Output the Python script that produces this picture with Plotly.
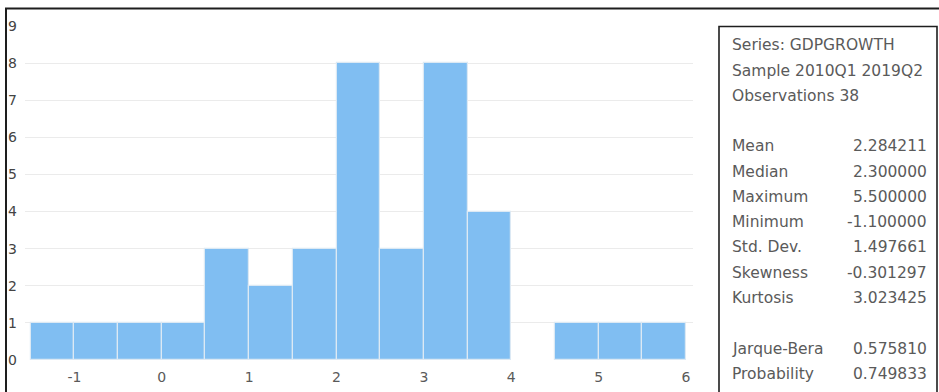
import plotly.graph_objects as go

# ---- data ----
bin_left = [-1.5, -1.0, -0.5, 0.0, 0.5, 1.0, 1.5, 2.0, 2.5, 3.0, 3.5, 4.0, 4.5, 5.0, 5.5]
bin_width = 0.5
counts = [1, 1, 1, 1, 3, 2, 3, 8, 3, 8, 4, 0, 1, 1, 1]
x_ticks = [-1, 0, 1, 2, 3, 4, 5, 6]
x_tick_labels = ["-1", "0", "1", "2", "3", "4", "5", "6"]
y_ticks = [0, 1, 2, 3, 4, 5, 6, 7, 8, 9]
grid_ticks = [1, 2, 3, 4, 5, 6, 7, 8]

stats_header = ["Series: GDPGROWTH", "Sample 2010Q1 2019Q2", "Observations 38"]
stat_names = ["Mean", "Median", "Maximum", "Minimum", "Std. Dev.", "Skewness", "Kurtosis"]
stat_values = ["2.284211", "2.300000", "5.500000", "-1.100000", "1.497661", "-0.301297", "3.023425"]
test_names = ["Jarque-Bera", "Probability"]
test_values = ["0.575810", "0.749833"]

# ---- layout geometry (pixels) ----
FW, FH = 939, 392
L, R, T, B = 25, 693, 25.5, 360
PW, PH = R - L, B - T


def px(x):
    return (x - L) / PW


def py(y):
    return 1 - (y - T) / PH


FONT = "DejaVu Sans"
TXT = "#5A5A5A"
FS = 15.5

centers = [b + bin_width / 2 for b in bin_left]
line_w = [1.2 if c > 0 else 0 for c in counts]

fig = go.Figure()
fig.add_trace(go.Bar(
    x=centers, y=counts, width=[bin_width] * len(counts),
    marker=dict(color="#80BEF2", line=dict(color="#DCE9F4", width=line_w)),
    hoverinfo="skip", showlegend=False,
))
# invisible trace to carry label axis
fig.add_trace(go.Scatter(x=[0], y=[0], yaxis="y2", mode="markers",
                         marker=dict(opacity=0), hoverinfo="skip", showlegend=False))

fig.update_layout(
    width=FW, height=FH,
    margin=dict(l=L, r=FW - R, t=T, b=FH - B, autoexpand=False),
    paper_bgcolor="white", plot_bgcolor="white",
    bargap=0,
    xaxis=dict(range=[-1.565, 6.08], tickvals=x_ticks, ticktext=x_tick_labels,
               showgrid=False, zeroline=False, automargin=False,
               showline=False, ticks="", ticklabelstandoff=7,
               tickfont=dict(family=FONT, size=14, color=TXT)),
    yaxis=dict(range=[0, 9], tickvals=grid_ticks, showticklabels=False, showgrid=True,
               automargin=False,
               gridcolor="#EBEBEB", gridwidth=1, zeroline=False, showline=False, ticks=""),
    yaxis2=dict(range=[0, 9], overlaying="y", side="left", tickvals=y_ticks,
                showgrid=False, zeroline=False, showline=False, ticks="",
                automargin=False, ticklabelstandoff=7,
                tickfont=dict(family=FONT, size=14, color="#444444")),
)

shapes = []
# outer frame lines
shapes.append(dict(type="line", xref="paper", yref="paper",
                   x0=px(6), x1=px(6), y0=py(8), y1=py(400),
                   line=dict(color="#1E1E1E", width=2)))
shapes.append(dict(type="line", xref="paper", yref="paper",
                   x0=px(5), x1=px(945), y0=py(8), y1=py(8),
                   line=dict(color="#1E1E1E", width=2)))
# stats box
shapes.append(dict(type="rect", xref="paper", yref="paper",
                   x0=px(719), x1=px(937), y0=py(26), y1=py(400),
                   line=dict(color="#1E1E1E", width=1.6), fillcolor="rgba(0,0,0,0)"))
fig.update_layout(shapes=shapes)

ann = []
TL, TR = 730, 929
for i, s in enumerate(stats_header):
    ann.append(dict(text=s, x=px(TL), y=py(45 + i * 25.5), xref="paper", yref="paper",
                    xanchor="left", yanchor="middle", showarrow=False,
                    font=dict(family=FONT, size=FS, color=TXT)))
for i, (n, v) in enumerate(zip(stat_names, stat_values)):
    yy = py(146 + i * 25.3)
    ann.append(dict(text=n, x=px(TL), y=yy, xref="paper", yref="paper",
                    xanchor="left", yanchor="middle", showarrow=False,
                    font=dict(family=FONT, size=FS, color=TXT)))
    ann.append(dict(text=v, x=px(TR), y=yy, xref="paper", yref="paper",
                    xanchor="right", yanchor="middle", showarrow=False,
                    font=dict(family=FONT, size=FS, color=TXT)))
for i, (n, v) in enumerate(zip(test_names, test_values)):
    yy = py(349 + i * 25)
    ann.append(dict(text=n, x=px(TL), y=yy, xref="paper", yref="paper",
                    xanchor="left", yanchor="middle", showarrow=False,
                    font=dict(family=FONT, size=FS, color=TXT)))
    ann.append(dict(text=v, x=px(TR), y=yy, xref="paper", yref="paper",
                    xanchor="right", yanchor="middle", showarrow=False,
                    font=dict(family=FONT, size=FS, color=TXT)))
fig.update_layout(annotations=ann)

fig.write_html("out.html")
